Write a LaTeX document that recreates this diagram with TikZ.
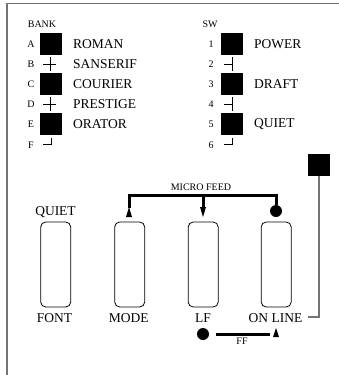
\documentclass[tikz,border=0pt]{standalone}
\usepackage{fontspec}
\setmainfont{Liberation Serif}
\usetikzlibrary{positioning}
\tikzset{
  lamp/.style={fill=black,minimum size=22pt,inner sep=0pt},
  small/.style={font=\fontsize{10}{12}\selectfont,inner sep=0pt},
  big/.style={font=\fontsize{13.5}{16}\selectfont,inner sep=0pt,anchor=west},
  keycap/.style={draw,rounded corners=5pt,minimum width=30pt,minimum height=85pt,inner sep=0pt,line width=.8pt},
  feed/.style={line width=3pt},
  dot/.style={circle,fill=black,minimum size=12pt,inner sep=0pt},
  rim/.style={gray!90!black,line width=1.4pt}
}
\begin{document}
\begin{tikzpicture}[x=1pt,y=-1pt]
\useasboundingbox (0,0) rectangle (339,375);
\draw[rim] (7,375) -- (7,3.7) -- (339,3.7);
% bank
\node[small] at (42,24.5) {BANK};
\node[small] (a) at (31,44) {A};
\node[small] (b) at (31,64) {B};
\node[small] (c) at (31,84) {C};
\node[small] (d) at (31,104) {D};
\node[small] (e) at (31,124) {E};
\node[small] (f) at (31,145) {F};
\node[lamp] (la) at (51,44) {};
\node[lamp] (lc) at (51,84) {};
\node[lamp] (le) at (51,124) {};
\draw[line width=.8pt] (43,64) -- (56,64) (50,57) -- (50,71);
\draw[line width=.8pt] (43,104) -- (56,104) (50,97) -- (50,111);
\draw[line width=.8pt] (43,144) -- (51.5,144) -- (51.5,138);
\node[big] at (73,44) {ROMAN};
\node[big] at (73,64) {SANSERIF};
\node[big] at (73,84) {COURIER};
\node[big] at (73,104) {PRESTIGE};
\node[big] at (73,124) {ORATOR};
% sw
\node[small] at (210,24.5) {SW};
\node[small] (s1) at (211,44) {1};
\node[small] (s2) at (211,64) {2};
\node[small] (s3) at (211,84) {3};
\node[small] (s4) at (211,104) {4};
\node[small] (s5) at (211,124) {5};
\node[small] (s6) at (211,145) {6};
\node[lamp] (l1) at (232,44) {};
\node[lamp] (l3) at (232,84) {};
\node[lamp] (l5) at (232,124) {};
\draw[line width=.8pt] (224,64) -- (232,64) (232,57) -- (232,71);
\draw[line width=.8pt] (224,104) -- (232,104) (232,97) -- (232,111);
\draw[line width=.8pt] (224,144) -- (232,144) -- (232,138);
\node[big] at (254,44) {POWER};
\node[big] at (254,84) {DRAFT};
\node[big] at (254,124) {QUIET};
% keys
\node[keycap] (font) at (55.7,264.5) {};
\node[keycap] (mode) at (129.7,264.5) {};
\node[keycap] (lf) at (203.2,264.5) {};
\node[keycap] (online) at (276.2,264.5) {};
\node[big,anchor=center] at (55.5,212.5) {QUIET};
\node[big,anchor=center] at (54.5,317.7) {FONT};
\node[big,anchor=center] at (128.7,317.7) {MODE};
\node[big,anchor=center] at (203,317.7) {LF};
\node[big,anchor=center] (ol) at (275.5,317.7) {ON LINE};
% micro feed
\node[small] at (201,187) {MICRO FEED};
\node[dot] (fd) at (276,211) {};
\coordinate (m) at (129,208);
\coordinate (k) at (203,208);
\draw[feed] (m) -- (129,195) -- (276,195) -- (fd);
\draw[feed] (203,195) -- (k);
\fill (126,217) -- ++(3,-10) -- ++(3,10) -- cycle;
\fill (203,217) -- ++(-3,-10) -- ++(6,0) -- cycle;
% ff
\node[small] at (242,341) {FF};
\node[dot] (ffd) at (203,334) {};
\coordinate (ffs) at (215.7,334);
\coordinate (ffe) at (270,334);
\draw[feed] (ffs) -- (ffe);
\fill (273,337) -- ++(3,-9) -- ++(3,9) -- cycle;
% lamp
\node[lamp] (ll) at (319,165) {};
\coordinate (lend) at (308,317);
\draw[rim] (ll) -- (319,317) -- (lend);
\end{tikzpicture}
\end{document}
